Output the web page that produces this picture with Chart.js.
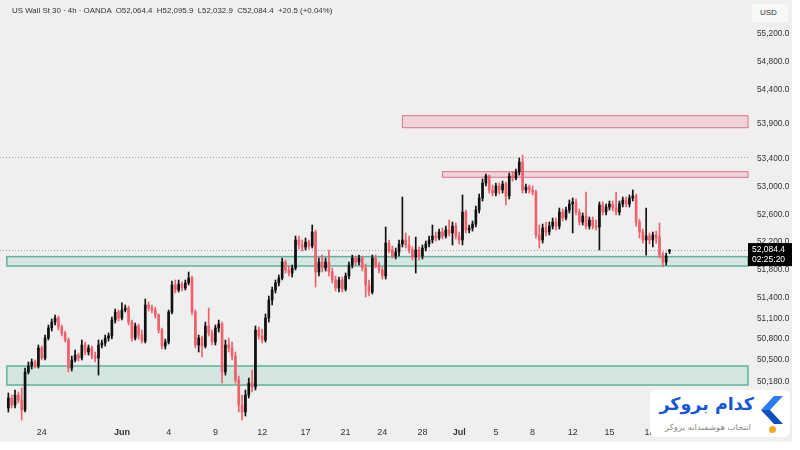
<!DOCTYPE html>
<html>
<head>
<meta charset="utf-8">
<script src="https://cdn.jsdelivr.net/npm/chart.js@4.4.1/dist/chart.umd.min.js"></script>
<style>
  html, body { margin: 0; padding: 0; background: #fff; }
  #wrap { position: relative; width: 792px; height: 442px; background: #efefef; overflow: hidden; }
  #chart { position: absolute; left: 0; top: 0; }
  .title { position: absolute; left: 12px; top: 6px; font: 7.9px "Liberation Sans", Arial, sans-serif; color: #333; white-space: pre; }
  .usd { position: absolute; left: 752px; top: 4px; width: 36px; height: 18px; background: #f8f8f8; font: 8px "Liberation Sans", Arial, sans-serif; color: #333; line-height: 18px; padding-left: 8px; box-sizing: border-box; }
  .logo { position: absolute; left: 650px; top: 390px; width: 140px; height: 47px; background: #fff; border-radius: 6px; }
  .brand { position: absolute; right: 36px; top: 4px; direction: rtl; font: bold 17.5px "DejaVu Sans", sans-serif; color: #1657d4; white-space: nowrap; }
  .tag { position: absolute; right: 39px; top: 32px; direction: rtl; font: 8.5px "DejaVu Sans", sans-serif; color: #8a8a8a; white-space: nowrap; }
  .chev { position: absolute; left: 111px; top: 6px; }
  .dot { position: absolute; left: 119px; top: 36px; width: 7px; height: 7px; border-radius: 50%; background: #f5a623; }
</style>
</head>
<body>
<div id="wrap">
  <canvas id="chart" width="792" height="442"></canvas>
  <div class="title">US Wall St 30 · 4h · OANDA  O52,064.4  H52,095.9  L52,032.9  C52,084.4  +20.5 (+0.04%)</div>
  <div class="usd">USD</div>
  <div class="logo">
    <div class="brand">کدام بروکر</div>
    <div class="tag">انتخاب هوشمندانه بروکر</div>
    <svg class="chev" width="22" height="28" viewBox="0 0 22 28">
      <polygon points="13,0 22,0 9,14 0,14" fill="#2a7bf0"/>
      <polygon points="0,14 9,14 22,28 13,28" fill="#0c4fc0"/>
    </svg>
    <div class="dot"></div>
  </div>
</div>
<script>
// 4h candles, oldest first
const open = [
  49808, 49952, 49851, 49995, 49923, 49779, 50327, 50413, 50471, 50413,
  50673, 50528, 50817, 50961, 51047, 51105, 50975, 50889, 50788, 50384,
  50500, 50572, 50528, 50716, 50615, 50673, 50557, 50528, 50716, 50745,
  50817, 50846, 51076, 51192, 51105, 51220, 51249, 51047, 50817, 50990,
  50860, 50773, 51293, 51249, 51220, 51148, 50932, 50701, 50759, 51192,
  51581, 51509, 51595, 51538, 51610, 51682, 51192, 50716, 50817, 50701,
  50990, 50889, 50759, 50961, 51019, 50327, 50716, 50673, 50557, 50212,
  49851, 49750, 49995, 50168, 50110, 50932, 50846, 50788, 51105, 51365,
  51509, 51610, 51682, 51912, 51797, 51754, 51826, 52230, 52158, 52129,
  52201, 52143, 52345, 51768, 51912, 51826, 51912, 51768, 51653, 51538,
  51653, 51523, 51711, 51869, 51970, 51912, 51970, 51826, 51581, 51480,
  51970, 51869, 51797, 51711, 52186, 52086, 51999, 52057, 52172, 52230,
  52158, 52086, 51985, 52086, 51999, 52114, 52172, 52230, 52287, 52258,
  52345, 52287, 52374, 52331, 52431, 52287, 52230, 52633, 52374, 52403,
  52460, 52662, 52835, 53051, 53152, 52951, 52907, 53008, 52951, 53037,
  52864, 53152, 53124, 53210, 53354, 52951, 52994, 52951, 52922, 52302,
  52230, 52403, 52345, 52431, 52489, 52431, 52633, 52547, 52662, 52749,
  52778, 52633, 52489, 52576, 52431, 52518, 52431, 52417, 52734, 52633,
  52706, 52749, 52691, 52633, 52749, 52806, 52749, 52835, 52864, 52489,
  52345, 52230, 52287, 52230, 52302, 52273, 52013, 51912, 52064.4
];
const high = [
  50024, 49995, 50067, 50038, 50096, 50384, 50471, 50514, 50500, 50716,
  50701, 50860, 51004, 51091, 51148, 51134, 51004, 50918, 50817, 50557,
  50644, 50600, 50788, 50759, 50716, 50701, 50615, 50788, 50788, 50860,
  50889, 51120, 51235, 51220, 51323, 51293, 51278, 51076, 51033, 51019,
  50932, 51379, 51336, 51293, 51264, 51163, 50961, 50802, 51220, 51639,
  51653, 51653, 51624, 51653, 51768, 51711, 51220, 50860, 50846, 51047,
  51249, 50932, 51004, 51076, 51047, 50788, 50817, 50759, 50615, 50269,
  49995, 50067, 50240, 50356, 50990, 50975, 50947, 51163, 51422, 51552,
  51653, 51725, 51970, 51941, 51855, 51869, 52287, 52287, 52230, 52258,
  52230, 52446, 52374, 51970, 52013, 51970, 52086, 51826, 51711, 51696,
  51696, 51754, 51912, 52013, 51999, 52013, 51999, 51884, 51653, 52013,
  52013, 51912, 51840, 52417, 52230, 52143, 52114, 52230, 52850, 52331,
  52287, 52129, 52273, 52129, 52158, 52215, 52287, 52446, 52345, 52388,
  52403, 52431, 52518, 52489, 52475, 52345, 52879, 52662, 52446, 52504,
  52720, 52893, 53109, 53181, 53167, 53023, 53051, 53051, 53080, 53066,
  53196, 53210, 53253, 53412, 53455, 53037, 53023, 53008, 52951, 52446,
  52460, 52489, 52489, 52547, 52547, 52691, 52677, 52706, 52806, 52835,
  52821, 52677, 52619, 52922, 52561, 52561, 52518, 52778, 52778, 52749,
  52792, 52792, 52922, 52792, 52850, 52850, 52879, 52951, 52893, 52532,
  52388, 52691, 52331, 52345, 52359, 52475, 52057, 52042, 52095.9
];
const low = [
  49750, 49808, 49808, 49880, 49635, 49750, 50298, 50370, 50384, 50384,
  50500, 50500, 50788, 50918, 51004, 50932, 50846, 50759, 50327, 50341,
  50471, 50485, 50500, 50572, 50572, 50514, 50471, 50283, 50673, 50701,
  50773, 50802, 51033, 51062, 51076, 51192, 51004, 50773, 50788, 50802,
  50745, 50745, 51206, 51177, 51105, 50889, 50658, 50658, 50730, 51163,
  51466, 51480, 51495, 51509, 51581, 51148, 50673, 50615, 50543, 50673,
  50846, 50716, 50716, 50903, 50168, 50283, 50615, 50500, 50168, 49750,
  49635, 49692, 49952, 50038, 50067, 50802, 50745, 50759, 51047, 51293,
  51466, 51567, 51653, 51754, 51711, 51696, 51797, 52100, 52071, 52086,
  52100, 52114, 51552, 51711, 51768, 51783, 51711, 51610, 51495, 51480,
  51480, 51495, 51667, 51826, 51869, 51869, 51783, 51408, 51422, 51451,
  51826, 51754, 51667, 51667, 52042, 51970, 51956, 51999, 52129, 52114,
  52042, 51941, 51754, 51941, 51956, 52071, 52129, 52186, 52215, 52230,
  52244, 52258, 52287, 52158, 52244, 52172, 52158, 52331, 52331, 52359,
  52417, 52619, 52792, 53008, 52907, 52864, 52864, 52893, 52907, 52734,
  52821, 53080, 53095, 53167, 52907, 52907, 52907, 52879, 52258, 52114,
  52186, 52287, 52302, 52388, 52374, 52388, 52504, 52518, 52619, 52331,
  52590, 52446, 52446, 52388, 52388, 52388, 52374, 52086, 52590, 52590,
  52662, 52648, 52590, 52590, 52706, 52706, 52706, 52792, 52431, 52258,
  52186, 52013, 52172, 52129, 52186, 51970, 51840, 51869, 52032.9
];
const close = [
  49952, 49851, 49995, 49923, 49779, 50327, 50413, 50471, 50413, 50673,
  50528, 50817, 50961, 51047, 51105, 50975, 50889, 50788, 50384, 50500,
  50572, 50528, 50716, 50615, 50673, 50557, 50528, 50716, 50745, 50817,
  50846, 51076, 51192, 51105, 51220, 51249, 51047, 50817, 50990, 50860,
  50773, 51293, 51249, 51220, 51148, 50932, 50701, 50759, 51192, 51581,
  51509, 51595, 51538, 51610, 51682, 51192, 50716, 50817, 50701, 50990,
  50889, 50759, 50961, 51019, 50327, 50716, 50673, 50557, 50212, 49851,
  49750, 49995, 50168, 50110, 50932, 50846, 50788, 51105, 51365, 51509,
  51610, 51682, 51912, 51797, 51754, 51826, 52230, 52158, 52129, 52201,
  52143, 52345, 51768, 51912, 51826, 51912, 51768, 51653, 51538, 51653,
  51523, 51711, 51869, 51970, 51912, 51970, 51826, 51581, 51480, 51970,
  51869, 51797, 51711, 52186, 52086, 51999, 52057, 52172, 52230, 52158,
  52086, 51985, 52086, 51999, 52114, 52172, 52230, 52287, 52258, 52345,
  52287, 52374, 52331, 52431, 52287, 52230, 52633, 52374, 52403, 52460,
  52662, 52835, 53051, 53152, 52951, 52907, 53008, 52951, 53037, 52864,
  53152, 53124, 53210, 53354, 52951, 52994, 52951, 52922, 52302, 52230,
  52403, 52345, 52431, 52489, 52431, 52633, 52547, 52662, 52749, 52778,
  52633, 52489, 52576, 52431, 52518, 52431, 52417, 52734, 52633, 52706,
  52749, 52691, 52633, 52749, 52806, 52749, 52835, 52864, 52489, 52345,
  52230, 52287, 52230, 52302, 52258, 52013, 51912, 51999, 52084.4
];

// x-axis date labels, by candle index
const tickIndex = [10, 34, 48, 62, 76, 89, 101, 112, 124, 135, 146, 157, 169, 180, 192];
const tickText = ['24', 'Jun', '4', '9', '12', '17', '21', '24', '28', 'Jul', '5', '8', '12', '15', '18'];

// price axis labels
const priceTicks = [55200, 54800, 54400, 53900, 53400, 53000, 52600, 52200, 51800, 51400, 51100, 50800, 50500, 50180];

// supply (pink) and demand (green) zones
const zoneLow = [53849, 53134, 51855, 50139];
const zoneHigh = [54022, 53215, 51990, 50413];
const zoneStart = [118, 130, 0, 0];
const zoneType = ['supply', 'supply', 'demand', 'demand'];

const highLine = 53426;
const countdown = '02:25:20';

const UP = '#111111';
const DOWN = '#f0606a';
const LEAD = 2, TRAIL = 23;

const pad = n => Array(n).fill(null);
const slots = LEAD + close.length + TRAIL;
const labels = Array(slots).fill('');
tickIndex.forEach((j, i) => { labels[LEAD + j] = tickText[i]; });

const bodyData = pad(LEAD).concat(open.map((o, i) => [o, close[i]]), pad(TRAIL));
const wickData = pad(LEAD).concat(low.map((l, i) => [l, high[i]]), pad(TRAIL));
const colors = pad(LEAD).concat(open.map((o, i) => close[i] >= o ? UP : DOWN), pad(TRAIL)).map(c => c || UP);

const fmt = v => v.toLocaleString('en-US', { minimumFractionDigits: 1, maximumFractionDigits: 1 });

const overlays = {
    id: 'overlays',
    beforeDatasetsDraw(chart) {
        const { ctx, chartArea, scales: { x, y } } = chart;
        ctx.save();
        zoneLow.forEach((lo, i) => {
            const x0 = x.getPixelForValue(LEAD + zoneStart[i]) - (zoneType[i] === 'demand' ? 1.5 : 0);
            const y0 = y.getPixelForValue(zoneHigh[i]);
            const y1 = y.getPixelForValue(lo);
            const w = chartArea.right - x0;
            if (zoneType[i] === 'supply') {
                ctx.fillStyle = 'rgba(242, 70, 120, 0.16)';
                ctx.strokeStyle = '#e0728c';
                ctx.lineWidth = 1;
            } else {
                ctx.fillStyle = 'rgba(40, 160, 130, 0.13)';
                ctx.strokeStyle = '#5db39c';
                ctx.lineWidth = 1.5;
            }
            ctx.fillRect(x0, y0, w, y1 - y0);
            ctx.strokeRect(x0, y0, w, y1 - y0);
        });
        ctx.strokeStyle = '#a0a0a0';
        ctx.lineWidth = 1;
        ctx.setLineDash([1, 2]);
        [highLine, close[close.length - 1]].forEach(v => {
            const yy = Math.round(y.getPixelForValue(v)) + 0.5;
            ctx.beginPath();
            ctx.moveTo(chartArea.left, yy);
            ctx.lineTo(chartArea.right, yy);
            ctx.stroke();
        });
        ctx.restore();
    },
    afterDraw(chart) {
        const { ctx, chartArea, scales: { y } } = chart;
        const last = close[close.length - 1];
        const yp = y.getPixelForValue(last);
        ctx.save();
        ctx.fillStyle = '#000';
        ctx.fillRect(chartArea.right, yp - 7, 44, 23);
        ctx.fillStyle = '#fff';
        ctx.font = '8.5px "Liberation Sans"';
        ctx.textBaseline = 'middle';
        ctx.fillText(fmt(last), chartArea.right + 4, yp);
        ctx.fillText(countdown, chartArea.right + 4, yp + 10);
        ctx.restore();
    }
};

Chart.defaults.font.family = '"Liberation Sans", Arial, sans-serif';

new Chart(document.getElementById('chart'), {
    type: 'bar',
    data: {
        labels: labels,
        datasets: [{
            label: 'body',
            data: bodyData,
            backgroundColor: colors,
            barThickness: 2,
            minBarLength: 1,
            grouped: false
        }, {
            label: 'wick',
            data: wickData,
            backgroundColor: colors,
            barThickness: 1,
            grouped: false
        }]
    },
    options: {
        responsive: false,
        animation: false,
        layout: { padding: 0 },
        plugins: { legend: { display: false }, tooltip: { enabled: false } },
        scales: {
            x: {
                grid: { display: false, drawTicks: false },
                border: { display: false },
                afterBuildTicks: s => { s.ticks = s.ticks.filter(t => labels[t.value]); },
                afterFit: s => { s.height = 20; s.paddingLeft = 0; s.paddingRight = 0; },
                ticks: {
                    autoSkip: false,
                    maxRotation: 0,
                    padding: 5,
                    color: '#333',
                    font: ctx => ({ size: 9, weight: (ctx.tick && /J/.test(ctx.tick.label)) ? 'bold' : 'normal' })
                }
            },
            y: {
                position: 'right',
                min: 49606,
                max: 55690,
                grid: { display: false, drawTicks: false },
                border: { display: false },
                afterBuildTicks: s => { s.ticks = priceTicks.map(v => ({ value: v })); },
                afterFit: s => { s.width = 44; s.paddingTop = 0; s.paddingBottom = 0; },
                ticks: {
                    padding: 9,
                    crossAlign: 'near',
                    color: '#333',
                    font: { size: 8.3 },
                    callback: v => fmt(v)
                }
            }
        }
    },
    plugins: [overlays]
});
</script>
</body>
</html>
